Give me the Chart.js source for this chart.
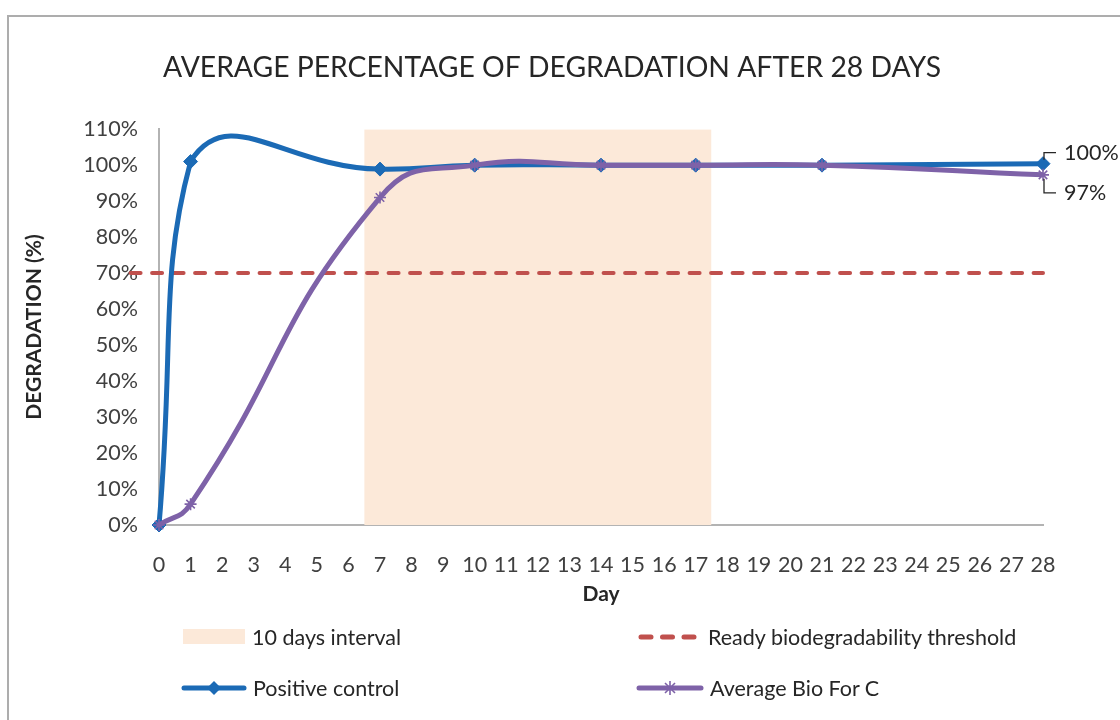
<!DOCTYPE html>
<html>
<head>
<meta charset="utf-8">
<script src="https://cdn.jsdelivr.net/npm/chart.js@4.4.0/dist/chart.umd.min.js"></script>
<style>
  body { margin: 0; background: #fff; }
  #wrap { position: relative; width: 1120px; height: 720px; overflow: hidden; }
  #frame { position: absolute; left: 7px; top: 15px; width: 1200px; height: 800px;
           border: 2px solid #ADADAD; box-sizing: border-box; }
  #chart { position: absolute; left: 0; top: 0; }
  .leg { position: absolute; display: flex; align-items: center;
         font-family: Lato, sans-serif; font-size: 21.5px; color: #262626; }
  .leg svg { margin-right: 6px; }
</style>
</head>
<body>
<div id="wrap">
  <div id="frame"></div>
  <canvas id="chart" width="1120" height="720"></canvas>
  <div class="leg" style="left:183px;top:624px;">
    <svg width="63" height="26"><rect x="0" y="5" width="62" height="15" fill="#FCE9D9"/></svg>10 days interval
  </div>
  <div class="leg" style="left:636px;top:624px;">
    <svg width="66" height="26"><line x1="5" y1="13" x2="60" y2="13" stroke="#C0504D" stroke-width="5"
      stroke-linecap="round" stroke-dasharray="10 11.5"/></svg>Ready biodegradability threshold
  </div>
  <div class="leg" style="left:181px;top:675px;">
    <svg width="66" height="26"><line x1="3" y1="13" x2="63" y2="13" stroke="#1B6AB5" stroke-width="5"
      stroke-linecap="round"/><polygon points="33,6 40,13 33,20 26,13" fill="#1B6AB5"/></svg>Positive control
  </div>
  <div class="leg" style="left:636px;top:675px;">
    <svg width="68" height="26"><line x1="3" y1="13" x2="65" y2="13" stroke="#7E62A8" stroke-width="5"
      stroke-linecap="round"/><g stroke="#7E62A8" stroke-width="1.6"><line x1="29" y1="8" x2="39" y2="18"/>
      <line x1="39" y1="8" x2="29" y2="18"/><line x1="34" y1="6" x2="34" y2="20"/></g></svg>Average Bio For C
  </div>
</div>
<script>
// Données
const jours = [0, 1, 7, 10, 14, 17, 21, 28];
const temoinPositif = [0, 101, 98.9, 100, 100, 100, 100, 100.4];
const moyenneBioForC = [0, 5.8, 91, 100, 100, 100, 100, 97.3];
const seuilJours = [-0.9, 28];
const seuilValeurs = [70, 70];
const intervalleJours = [6.5, 17.5];
const intervalleValeurs = [110, 110];
const etiquettesFin = ['100%', '97%'];

const police = 'Lato, sans-serif';
const toPoints = (xs, ys) => xs.map((x, i) => ({ x, y: ys[i] }));

// Les courbes lissées ne doivent pas repartir à gauche du jour 0 (comme Excel)
const lissagePlugin = {
    id: 'lissageHorizontal',
    beforeDatasetsDraw(chart) {
        const area = chart.chartArea;
        [2, 3].forEach(i => {
            const meta = chart.getDatasetMeta(i);
            meta.dataset.updateControlPoints(area, 'x');
            meta.data.forEach(p => {
                p.cp1x = Math.min(Math.max(p.cp1x, area.left), area.right);
                p.cp2x = Math.min(Math.max(p.cp2x, area.left), area.right);
            });
        });
    }
};

// étiquettes "100%" / "97%" avec trait de rappel
const etiquettesPlugin = {
    id: 'etiquettesFin',
    afterDatasetsDraw(chart) {
        const ctx = chart.ctx;
        const decalages = [-11, 18];
        [2, 3].forEach((dsIndex, i) => {
            const meta = chart.getDatasetMeta(dsIndex);
            const pt = meta.data[meta.data.length - 1];
            const yLabel = pt.y + decalages[i];
            ctx.save();
            ctx.strokeStyle = '#262626';
            ctx.lineWidth = 1.3;
            ctx.beginPath();
            ctx.moveTo(pt.x + 1, pt.y + (decalages[i] < 0 ? -4 : 4));
            ctx.lineTo(pt.x + 1, yLabel);
            ctx.lineTo(pt.x + 13, yLabel);
            ctx.stroke();
            ctx.fillStyle = '#262626';
            ctx.font = '21.5px ' + police;
            ctx.textBaseline = 'middle';
            ctx.fillText(etiquettesFin[i], pt.x + 21, yLabel);
            ctx.restore();
        });
    }
};

const ctx = document.getElementById('chart').getContext('2d');
new Chart(ctx, {
    type: 'line',
    data: {
        datasets: [
            {
                label: '10 days interval',
                data: toPoints(intervalleJours, intervalleValeurs),
                backgroundColor: '#FCE9D9',
                borderWidth: 0,
                pointRadius: 0,
                tension: 0,
                fill: 'origin',
                order: 4
            },
            {
                label: 'Ready biodegradability threshold',
                data: toPoints(seuilJours, seuilValeurs),
                borderColor: '#C0504D',
                borderWidth: 4,
                borderDash: [10, 11.5],
                borderCapStyle: 'round',
                pointRadius: 0,
                tension: 0,
                clip: false,
                order: 3
            },
            {
                label: 'Positive control',
                data: toPoints(jours, temoinPositif),
                borderColor: '#1B6AB5',
                backgroundColor: '#1B6AB5',
                borderWidth: 5,
                pointStyle: 'rectRot',
                pointRadius: 7,
                pointBorderWidth: 1,
                tension: 0.5,
                capBezierPoints: false,
                clip: false,
                order: 2
            },
            {
                label: 'Average Bio For C',
                data: toPoints(jours, moyenneBioForC),
                borderColor: '#7E62A8',
                backgroundColor: '#7E62A8',
                borderWidth: 5,
                pointStyle: 'star',
                pointRadius: 6,
                pointBorderWidth: 1.6,
                tension: 0.5,
                capBezierPoints: false,
                clip: false,
                order: 1
            }
        ]
    },
    options: {
        responsive: false,
        animation: false,
        layout: { padding: { left: 0, right: 16, top: 0, bottom: 100 } },
        plugins: {
            legend: { display: false },
            tooltip: { enabled: false },
            title: {
                display: true,
                text: 'AVERAGE PERCENTAGE OF DEGRADATION AFTER 28 DAYS',
                color: '#262626',
                font: { family: police, size: 28.3, weight: 'normal' },
                padding: { top: 51, bottom: 44.2 }
            }
        },
        scales: {
            x: {
                type: 'linear',
                min: 0,
                max: 28,
                grid: { display: false },
                border: { display: true, color: '#B3B3B3', width: 2 },
                ticks: {
                    stepSize: 1,
                    autoSkip: false,
                    maxRotation: 0,
                    padding: 19,
                    color: '#404040',
                    font: { family: police, size: 21.5 }
                },
                title: {
                    display: true,
                    text: 'Day',
                    color: '#262626',
                    font: { family: police, size: 21, weight: 'bold' },
                    padding: { top: 0, bottom: 13.4 }
                },
                afterFit: (scale) => { scale.height = 95; }
            },
            y: {
                min: 0,
                max: 110,
                grid: { display: false },
                border: { display: true, color: '#B3B3B3', width: 2 },
                ticks: {
                    stepSize: 10,
                    padding: 13,
                    color: '#404040',
                    font: { family: police, size: 21.5 },
                    callback: (v) => v + '%'
                },
                title: {
                    display: true,
                    text: 'DEGRADATION (%)',
                    color: '#262626',
                    font: { family: police, size: 21, weight: 'bold' },
                    padding: { top: 21.4, bottom: 0 }
                },
                afterFit: (scale) => { scale.width = 159; }
            },
            y2: {
                position: 'right',
                min: 0,
                max: 110,
                grid: { display: false },
                border: { display: false },
                ticks: { display: false },
                afterFit: (scale) => { scale.width = 61; }
            }
        }
    },
    plugins: [lissagePlugin, etiquettesPlugin]
});
</script>
</body>
</html>
